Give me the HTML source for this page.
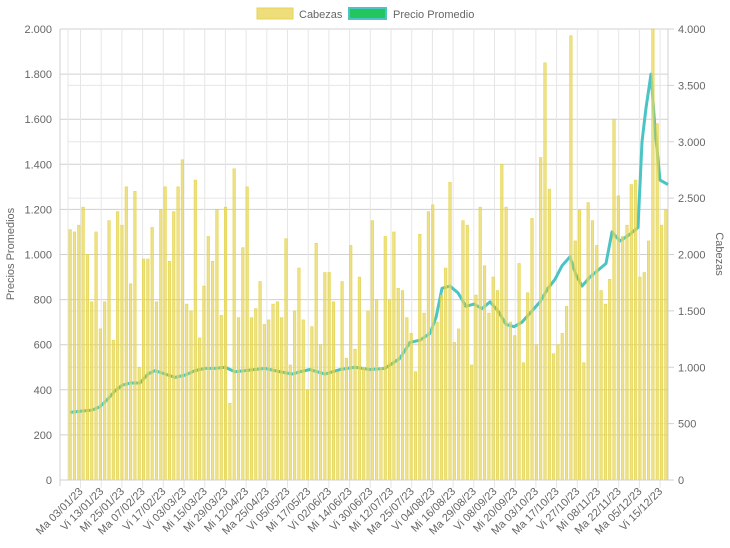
<!DOCTYPE html>
<html><head><meta charset="utf-8"><style>
html,body{margin:0;padding:0;background:#fff;}
svg{display:block;font-family:"Liberation Sans",sans-serif;}
</style></head><body>
<svg id="s" width="730" height="548" viewBox="0 0 730 548" xmlns="http://www.w3.org/2000/svg"></svg>
<script>
const s=document.getElementById('s');let h='';
const L=68,R=668,T=29,B=480;
const yl=v=>B-(v/2000)*(B-T);
const yr=v=>B-(v/4000)*(B-T);
for(let v=500;v<=4000;v+=500){const y=yr(v);h+=`<line x1="${L}" x2="${R}" y1="${y}" y2="${y}" stroke="#e6e6e6"/>`;}
for(let v=0;v<=2000;v+=200){const y=yl(v);h+=`<line x1="60" x2="${R}" y1="${y}" y2="${y}" stroke="#d0d0d0"/>`;
h+=`<text x="52" y="${y+4}" font-size="11" fill="#666" text-anchor="end">${v.toLocaleString('de-DE')}</text>`;}
for(let v=0;v<=4000;v+=500){const y=yr(v);h+=`<line x1="${R}" x2="${R+6}" y1="${y}" y2="${y}" stroke="#d0d0d0"/><text x="${R+10}" y="${y+4}" font-size="11" fill="#666">${v.toLocaleString('de-DE',{minimumFractionDigits:0})}</text>`;}
const labels=["Ma 03/01/23","Vi 13/01/23","Mi 25/01/23","Ma 07/02/23","Vi 17/02/23","Vi 03/03/23","Mi 15/03/23","Mi 29/03/23","Mi 12/04/23","Ma 25/04/23","Vi 05/05/23","Mi 17/05/23","Vi 02/06/23","Mi 14/06/23","Vi 30/06/23","Mi 12/07/23","Ma 25/07/23","Vi 04/08/23","Mi 16/08/23","Ma 29/08/23","Vi 08/09/23","Mi 20/09/23","Ma 03/10/23","Ma 17/10/23","Vi 27/10/23","Mi 08/11/23","Ma 22/11/23","Ma 05/12/23","Vi 15/12/23"];
h+=`<line x1="60" x2="60" y1="${T}" y2="${B+6}" stroke="#d0d0d0"/><line x1="${L}" x2="${L}" y1="${T}" y2="${B}" stroke="#e6e6e6"/><line x1="${R}" x2="${R}" y1="${T}" y2="${B}" stroke="#d0d0d0"/>`;
labels.forEach((t,i)=>{const x=80.5+i*20.7;h+=`<line x1="${x}" x2="${x}" y1="${T}" y2="${B+8}" stroke="#e6e6e6"/>`;
h+=`<text transform="translate(${x+3},${B+12}) rotate(-45)" font-size="11" fill="#666" text-anchor="end">${t}</text>`;});
const pts=[[70,300],[80,305],[92,310],[100,325],[108,360],[115,395],[122,420],[130,430],[140,430],[148,470],[155,485],[165,470],[175,455],[185,465],[195,485],[205,495],[215,495],[225,500],[235,480],[245,485],[255,490],[265,495],[280,480],[292,470],[300,480],[310,490],[325,470],[340,490],[355,500],[370,490],[385,495],[400,540],[410,610],[420,620],[430,650],[436,720],[442,850],[450,860],[458,830],[466,770],[474,780],[482,760],[490,790],[498,750],[506,690],[514,680],[522,700],[530,740],[540,790],[548,850],[555,890],[562,950],[570,990],[576,910],[582,860],[590,900],[598,930],[606,960],[612,1100],[620,1060],[630,1090],[638,1120],[642,1500],[646,1650],[651,1800],[655,1560],[660,1330],[668,1310]];
let d='M'+pts.map(p=>p[0]+','+yl(p[1])).join(' L');
h+=`<path d="${d}" fill="none" stroke="#4cc4c4" stroke-width="3" stroke-linejoin="round"/>`;
const bv=[1110,1100,1130,1210,1000,790,1100,670,790,1150,620,1190,1130,1300,870,1280,500,980,980,1120,790,1200,1300,970,1190,1300,1420,780,750,1330,630,860,1080,970,1200,730,1210,340,1380,720,1030,1300,720,760,880,690,710,780,790,720,1070,510,750,940,710,400,680,1050,600,920,920,790,480,880,540,1040,580,900,500,750,1150,800,500,1080,800,1100,850,840,720,650,480,1090,740,1190,1220,700,820,940,1320,610,670,1150,1130,510,820,1210,950,740,900,840,1400,1210,700,640,960,520,830,1160,600,1430,1850,1290,560,600,650,770,1970,1060,1200,520,1230,1150,1040,840,780,890,1600,1260,1080,1130,1310,1330,900,920,1060,2000,1580,1130,1200];
const n=bv.length,sp=(R-L)/n;
bv.forEach((v,i)=>{const x=L+i*sp+0.9;const y=yl(v);h+=`<rect x="${x.toFixed(2)}" y="${y}" width="${(sp-1.8).toFixed(2)}" height="${B-y}" fill="rgba(232,214,90,0.72)" stroke="rgba(225,210,60,0.9)" stroke-width="0.6"/>`;});
h+=`<line x1="60" x2="${R}" y1="${B}" y2="${B}" stroke="#d0d0d0"/>`;
h+=`<text transform="translate(14,254) rotate(-90)" font-size="11" fill="#666" text-anchor="middle">Precios Promedios</text>`;
h+=`<text transform="translate(716,254) rotate(90)" font-size="11" fill="#666" text-anchor="middle">Cabezas</text>`;
h+=`<rect x="257" y="8" width="36" height="11" fill="rgba(232,214,90,0.8)" stroke="#e6d35a"/><text x="299" y="18" font-size="11" fill="#666">Cabezas</text>`;
h+=`<rect x="349" y="8" width="37" height="11" fill="#22c55e" stroke="#4cc4c4" stroke-width="2"/><text x="393" y="18" font-size="11" fill="#666">Precio Promedio</text>`;
s.innerHTML=h;
</script>
</body></html>
